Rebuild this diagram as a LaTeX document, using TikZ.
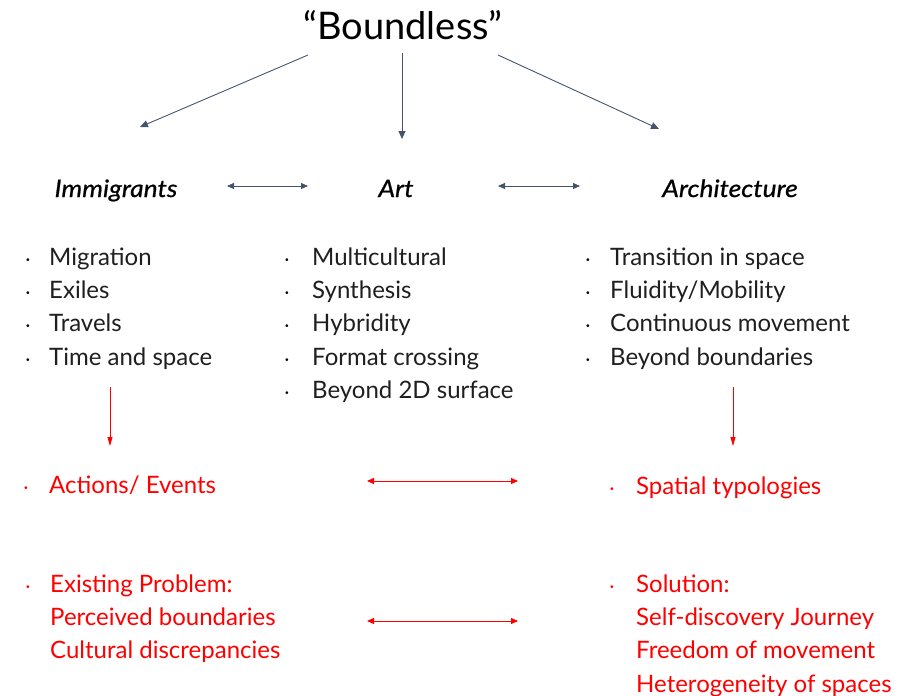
\documentclass[tikz,border=0pt]{standalone}
\usepackage{fontspec}
\setmainfont{Lato}
\newfontfamily\headfont[FakeStretch=1.1,FakeBold=0.8]{Lato}
\usetikzlibrary{arrows.meta}
\definecolor{slate}{HTML}{44546A}
\definecolor{hot}{HTML}{FF0000}
\begin{document}
\begin{tikzpicture}[x=1pt,y=-1pt,
  title/.style={anchor=base, inner sep=0pt, font=\fontsize{38}{42}\selectfont, text=black},
  heading/.style={anchor=base, inner sep=0pt, font=\headfont\fontsize{24}{28}\itshape\selectfont, text=black},
  item/.style={anchor=base west, inner sep=0pt, font=\fontsize{24}{28}\selectfont, text=black!88},
  dot/.style={anchor=base, inner sep=0pt, font=\fontsize{18}{20}\selectfont},
  ritem/.style={anchor=base west, inner sep=0pt, font=\fontsize{24}{28}\selectfont, text=hot},
  link/.style={draw=slate, line width=0.9pt, -{Triangle[length=8pt,width=7pt]}},
  twoway/.style={draw=slate, line width=0.9pt, {Triangle[length=7pt,width=6pt]}-{Triangle[length=7pt,width=6pt]}},
  rlink/.style={draw=hot, line width=0.8pt, -{Triangle[length=9pt,width=5pt]}},
  rtwoway/.style={draw=hot, line width=1pt, {Triangle[length=7pt,width=6pt]}-{Triangle[length=7pt,width=6pt]}}]
\useasboundingbox (0,0) rectangle (919,696);

% title and the three themes
\node[title] (bound) at (403,39) {“Boundless”};
\node[heading] (imm) at (116,197) {Immigrants};
\node[heading] (art) at (396,197) {Art};
\node[heading] (arch) at (730,197) {Architecture};

% arrow end points
\coordinate (b1) at (308,55);  \coordinate (t1) at (140,127);
\coordinate (b2) at (402,53);  \coordinate (t2) at (402,139);
\coordinate (b3) at (498,55);  \coordinate (t3) at (659,129);
\coordinate (ia) at (227,186); \coordinate (ai) at (308,186);
\coordinate (ar) at (498,186); \coordinate (ra) at (580,186);

\draw[link] (b1) -- (t1);
\draw[link] (b2) -- (t2);
\draw[link] (b3) -- (t3);
\draw[twoway] (ia) -- (ai);
\draw[twoway] (ar) -- (ra);

% immigrants list
\foreach \y/\t [count=\i] in {256/{Migration},289/{Exiles},322/{Travels},356/{Time and space}}{
  \node[dot] (imd\i) at (28,\y+9) {·};
  \node[item] (im\i) at (49,\y+9) {\t};
}
% art list
\foreach \y/\t [count=\i] in {256/{Multicultural},289/{Synthesis},322/{Hybridity},356/{Format crossing},389/{Beyond 2D surface}}{
  \node[dot] (ad\i) at (287,\y+9) {·};
  \node[item] (a\i) at (312,\y+9) {\t};
}
% architecture list
\foreach \y/\t [count=\i] in {256/{Transition in space},289/{Fluidity/Mobility},322/{Continuous movement},356/{Beyond boundaries}}{
  \node[dot] (rd\i) at (588,\y+9) {·};
  \node[item] (r\i) at (610,\y+9) {\t};
}

% consequences
\coordinate (l0) at (110,387); \coordinate (l1) at (110,446);
\coordinate (r0) at (733,387); \coordinate (r1) at (733,446);
\draw[rlink] (l0) -- (l1);
\draw[rlink] (r0) -- (r1);

\node[dot, text=hot] (ed) at (26,493) {·};
\node[ritem] (ev) at (49,493) {Actions/ Events};
\node[dot, text=hot] (sd) at (612,494) {·};
\node[ritem] (sp) at (636,494) {Spatial typologies};
\coordinate (m0) at (367,481); \coordinate (m1) at (518,481);
\draw[rtwoway] (m0) -- (m1);

\node[dot, text=hot] (pd) at (28,592) {·};
\foreach \y/\t [count=\i] in {583/{Existing Problem:},616/{Perceived boundaries},649/{Cultural discrepancies}}{
  \node[ritem] (p\i) at (50,\y+9) {\t};
}
\node[dot, text=hot] (sod) at (612,592) {·};
\foreach \y/\t [count=\i] in {583/{Solution:},616/{Self-discovery Journey},649/{Freedom of movement},683/{Heterogeneity of spaces}}{
  \node[ritem] (s\i) at (636,\y+9) {\t};
}
\coordinate (n0) at (367,621); \coordinate (n1) at (518,621);
\draw[rtwoway] (n0) -- (n1);
\end{tikzpicture}
\end{document}
